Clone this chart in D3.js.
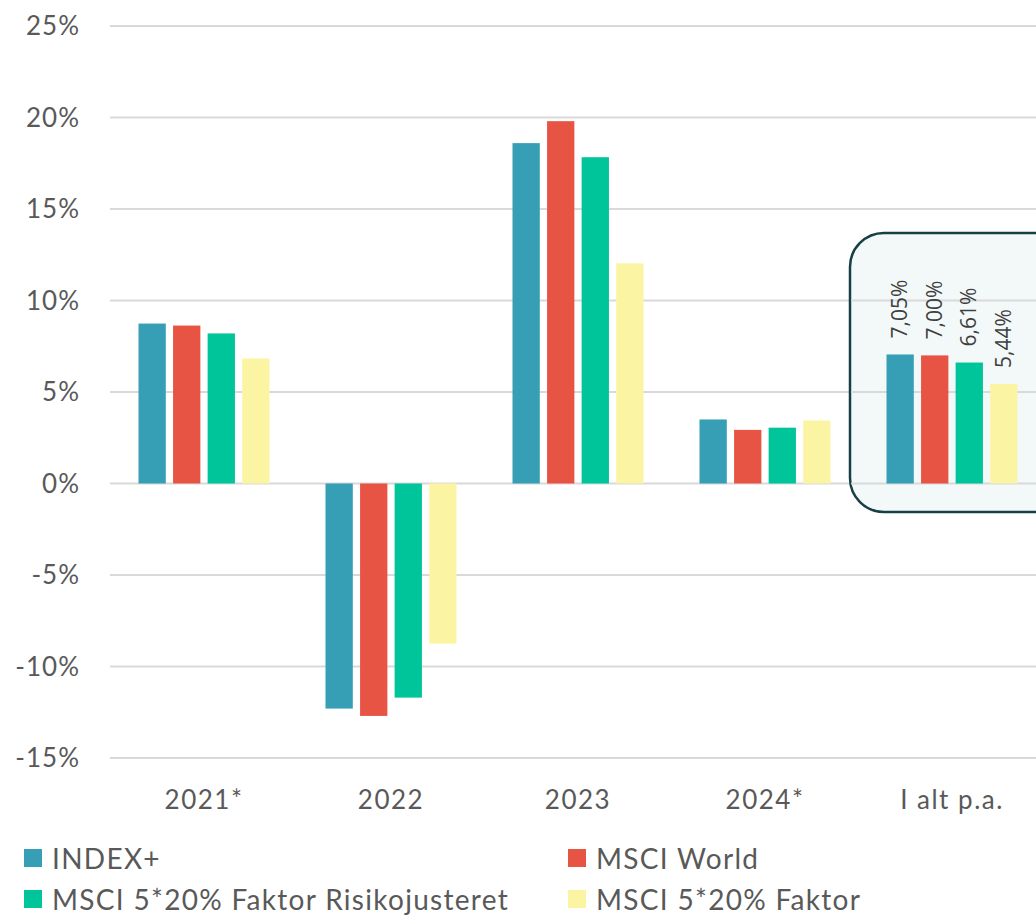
<!DOCTYPE html>
<html>
<head>
<meta charset="utf-8">
<script src="https://cdn.jsdelivr.net/npm/d3@7"></script>
<style>
  body { margin: 0; background: #fff; }
  svg { display: block; font-family: Lato, "Open Sans", sans-serif; }
</style>
</head>
<body>
<svg id="viz"></svg>
<script>
// Chart data
const categories = ["2021*", "2022", "2023", "2024*", "I alt p.a."];
const seriesNames = ["INDEX+", "MSCI World", "MSCI 5*20% Faktor Risikojusteret", "MSCI 5*20% Faktor"];
const seriesColors = ["#379FB5", "#E85444", "#00C49A", "#FBF5A3"];
const indexPlus   = [8.74, -12.3, 18.6, 3.5, 7.05];
const msciWorld   = [8.63, -12.7, 19.8, 2.93, 7.00];
const faktorRisk  = [8.2, -11.7, 17.83, 3.05, 6.61];
const faktor      = [6.83, -8.75, 12.03, 3.44, 5.44];
const yTicks = [-15, -10, -5, 0, 5, 10, 15, 20, 25];
const totalLabels = ["7,05%", "7,00%", "6,61%", "5,44%"];

const seriesValues = [indexPlus, msciWorld, faktorRisk, faktor];

const width = 1036, height = 918;
const svg = d3.select("#viz").attr("width", width).attr("height", height);

const y = d3.scaleLinear().domain([-15, 25]).range([758, 26]);
const x = d3.scaleBand().domain(categories).range([110.5, 1045.5]).paddingInner(0).paddingOuter(0);
const xInner = d3.scaleBand().domain(d3.range(4)).range([28, 159]).paddingInner(0.21);

// grid lines
svg.append("g").selectAll("line")
  .data(yTicks)
  .join("line")
  .attr("x1", 110).attr("x2", width)
  .attr("y1", d => y(d)).attr("y2", d => y(d))
  .attr("stroke", "#d9d9d9").attr("stroke-width", 2);

// tick labels
svg.append("g").selectAll("text")
  .data(yTicks)
  .join("text")
  .attr("x", 80).attr("y", d => y(d) + 9)
  .attr("text-anchor", "end")
  .attr("font-size", 26)
  .attr("letter-spacing", 1)
  .attr("fill", "#595959")
  .text(d => d + "%");

// highlight box around the total column
svg.append("rect")
  .attr("x", 850).attr("y", 233)
  .attr("width", 220).attr("height", 279)
  .attr("rx", 34).attr("ry", 34)
  .attr("fill", "#F3F9F9")
  .attr("stroke", "#173F46").attr("stroke-width", 2.5);

// gridlines show through the box
svg.append("g").selectAll("line")
  .data(yTicks.filter(d => d === 5 || d === 10 || d === 0))
  .join("line")
  .attr("x1", 851).attr("x2", width)
  .attr("y1", d => y(d)).attr("y2", d => y(d))
  .attr("stroke", "#d9d9d9").attr("stroke-width", 2);

// bars
const groups = svg.append("g").selectAll("g")
  .data(categories)
  .join("g")
  .attr("transform", d => `translate(${x(d)},0)`);

groups.selectAll("rect")
  .data((c, ci) => seriesValues.map((s, si) => ({ si: si, v: s[ci] })))
  .join("rect")
  .attr("x", d => xInner(d.si))
  .attr("width", xInner.bandwidth())
  .attr("y", d => y(Math.max(0, d.v)))
  .attr("height", d => Math.abs(y(d.v) - y(0)))
  .attr("fill", d => seriesColors[d.si]);

// rotated value labels on the total column
const last = categories[categories.length - 1];
svg.append("g").selectAll("text")
  .data(totalLabels)
  .join("text")
  .attr("transform", (d, i) => {
    const cx = x(last) + xInner(i) + xInner.bandwidth() / 2 + 7;
    const cy = y(seriesValues[i][4]) - 16;
    return `translate(${cx},${cy}) rotate(-90)`;
  })
  .attr("font-family", "'Open Sans', sans-serif")
  .attr("font-size", 21)
  .attr("fill", "#404040")
  .text(d => d);

// category labels
svg.append("g").selectAll("text")
  .data(categories)
  .join("text")
  .attr("x", d => x(d) + x.bandwidth() / 2)
  .attr("y", 809)
  .attr("text-anchor", "middle")
  .attr("font-size", 26)
  .attr("letter-spacing", 1.5)
  .attr("fill", "#595959")
  .text(d => d);

// legend
const legendPos = [[24, 860], [568, 860], [24, 901], [568, 901]];
const legend = svg.append("g").selectAll("g")
  .data(seriesNames)
  .join("g")
  .attr("transform", (d, i) => `translate(${legendPos[i][0]},${legendPos[i][1]})`);
legend.append("rect")
  .attr("x", 0).attr("y", -11).attr("width", 18).attr("height", 18)
  .attr("fill", (d, i) => seriesColors[i]);
legend.append("text")
  .attr("x", 28).attr("y", 9)
  .attr("font-size", 28)
  .attr("letter-spacing", 1.3)
  .attr("fill", "#595959")
  .text(d => d);
</script>
</body>
</html>
